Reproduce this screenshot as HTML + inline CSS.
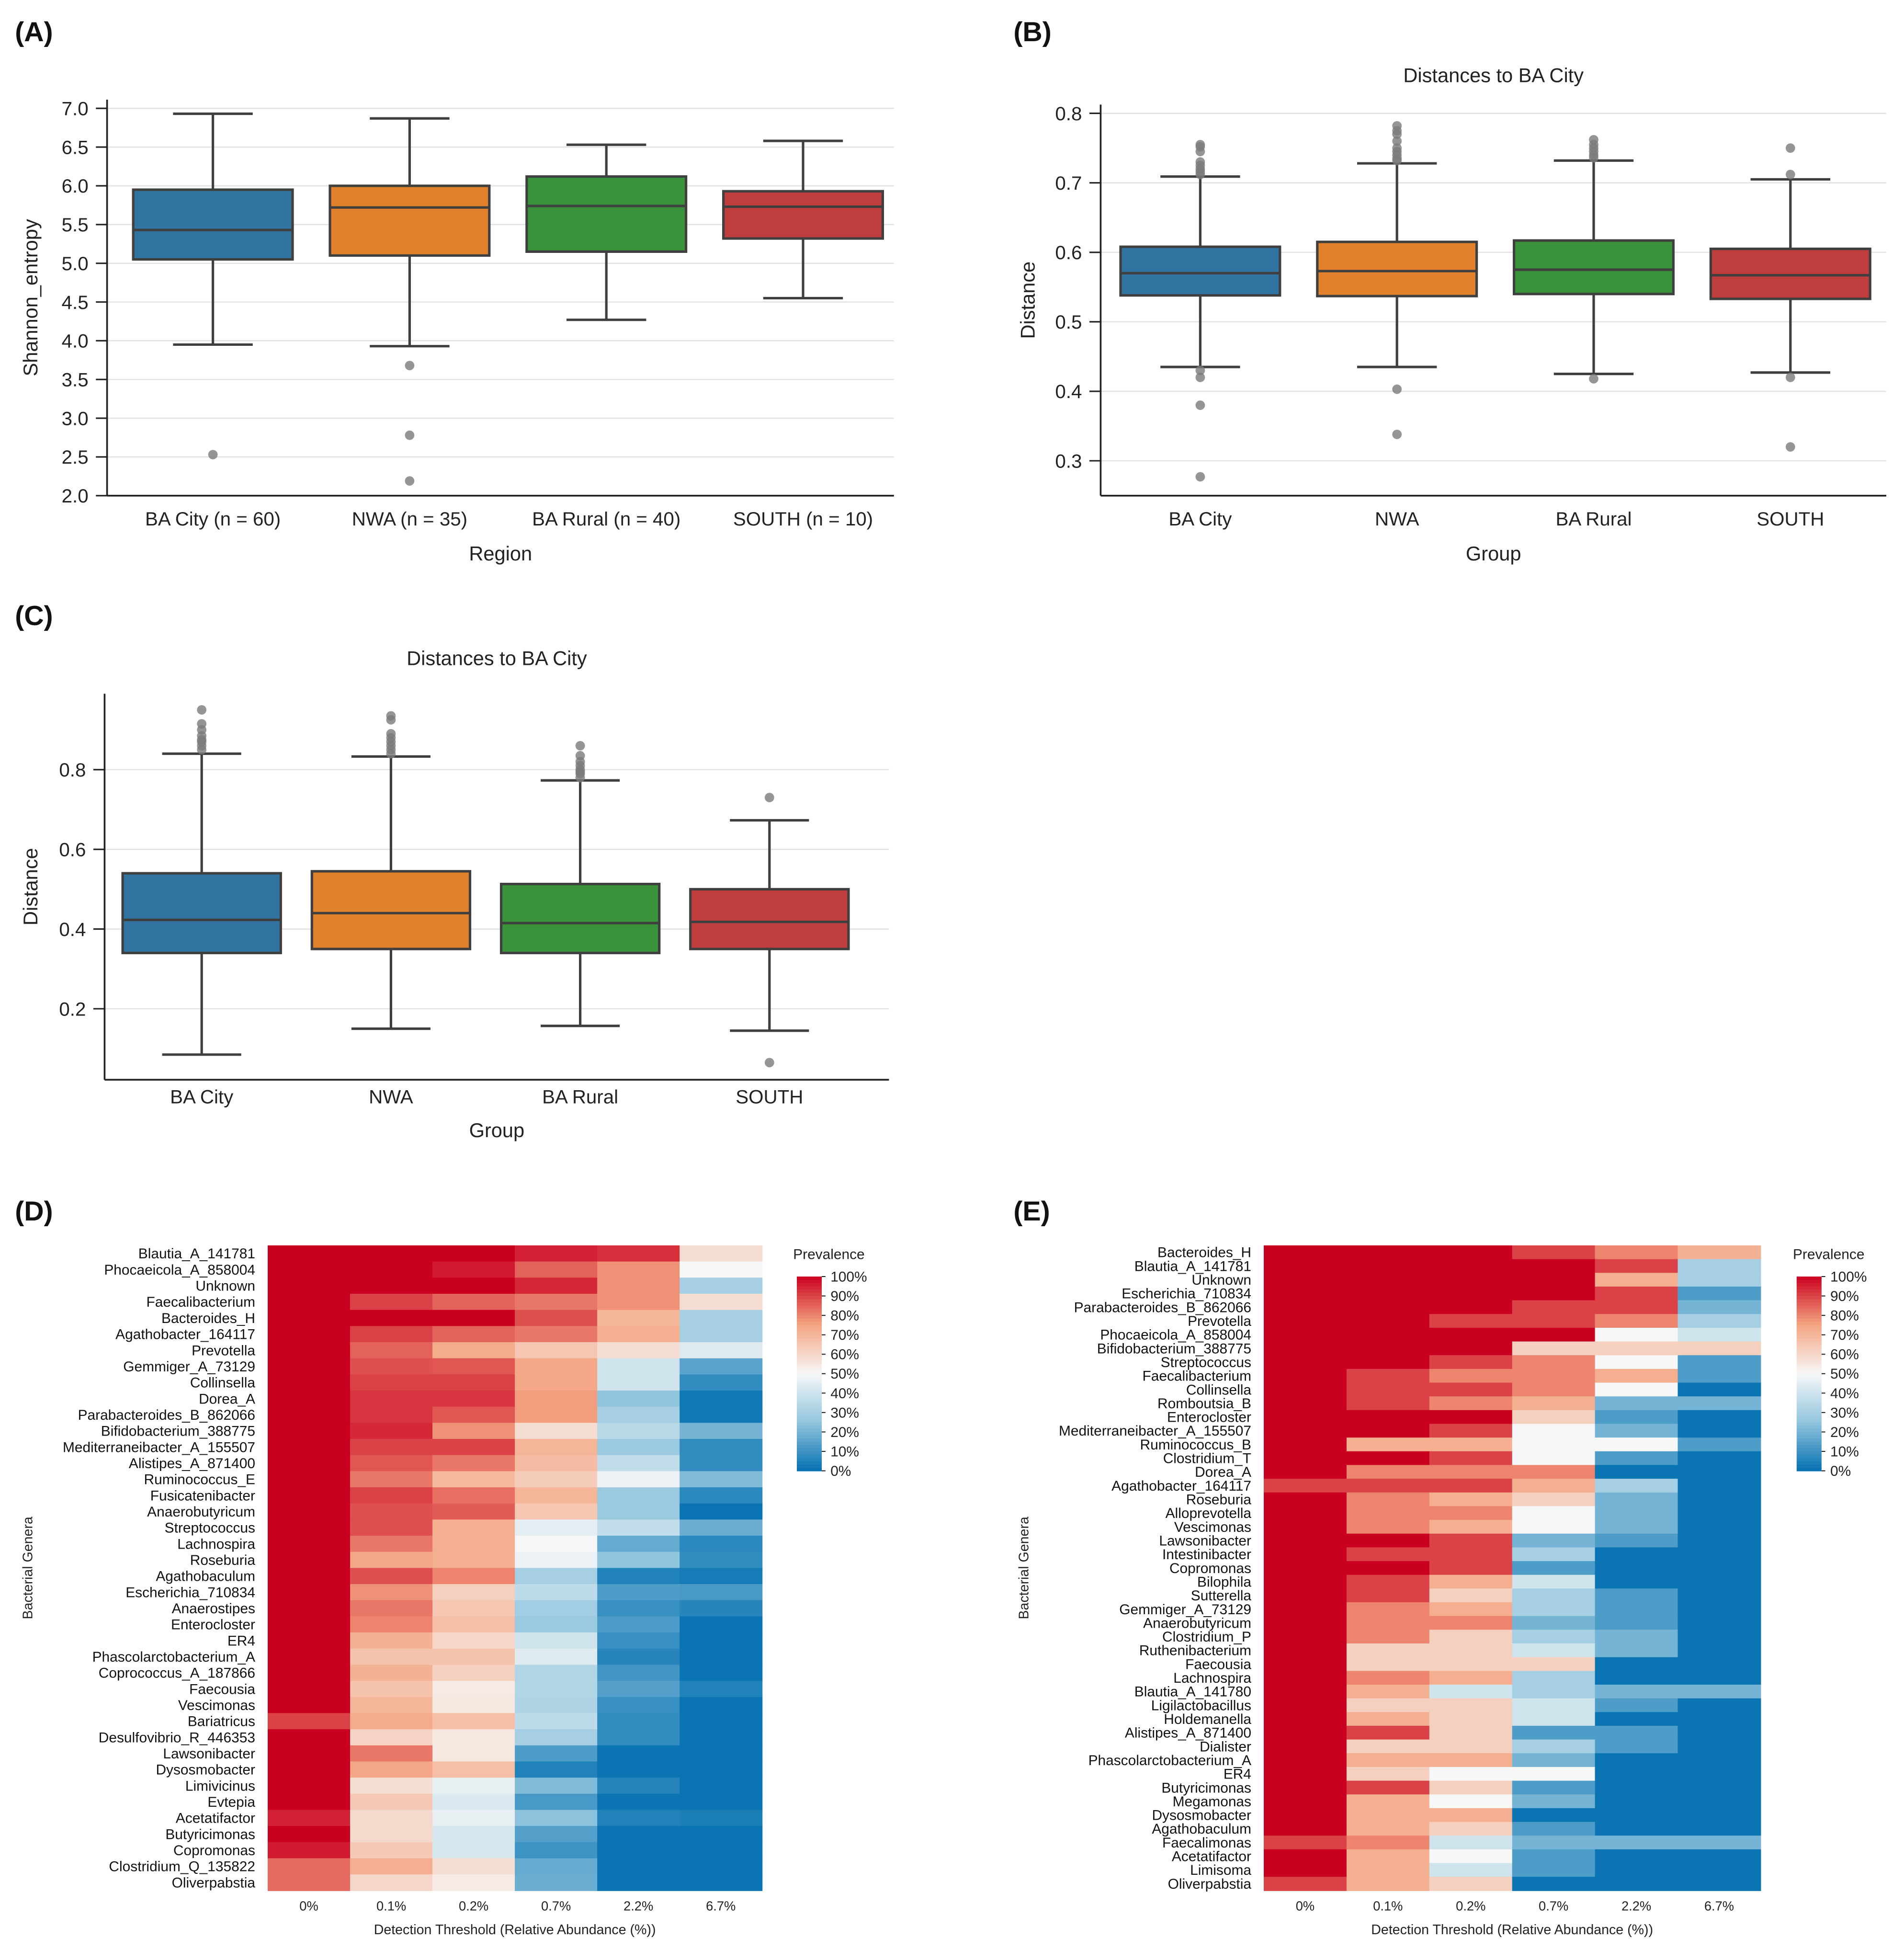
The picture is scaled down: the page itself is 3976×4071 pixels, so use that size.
<!DOCTYPE html>
<html><head><meta charset="utf-8"><style>
html,body{margin:0;padding:0;background:#fff;}
svg{display:block;font-family:"Liberation Sans",sans-serif;}
</style></head><body>
<svg id="fig" xmlns="http://www.w3.org/2000/svg" width="3976" height="4071" viewBox="0 0 1529.23 1565.77">
<rect width="1529.23" height="1565.77" fill="#fff"/>
<g font-weight="bold" font-size="22" fill="#111">
<text x="12" y="33">(A)</text>
<text x="814" y="33">(B)</text>
<text x="12" y="502">(C)</text>
<text x="12" y="980">(D)</text>
<text x="814" y="980">(E)</text>
</g>
<g id="root"></g>
</svg>
<script>
// ---------- data ----------
const groupsA = ["BA City (n = 60)","NWA (n = 35)","BA Rural (n = 40)","SOUTH (n = 10)"];
const groupsBC = ["BA City","NWA","BA Rural","SOUTH"];
const colors = ["#3274a1","#e1812c","#3a923a","#c03d3e"];
// [whiskerLow, Q1, median, Q3, whiskerHigh]
const statsA = [[3.95,5.05,5.43,5.95,6.93],[3.93,5.1,5.72,6.0,6.87],[4.27,5.15,5.74,6.12,6.53],[4.55,5.32,5.73,5.93,6.58]];
const outliersA = [[2.53],[3.68,2.78,2.19],[],[]];
const statsB = [[0.435,0.538,0.570,0.608,0.709],[0.435,0.537,0.573,0.615,0.728],[0.425,0.540,0.575,0.617,0.732],[0.427,0.533,0.567,0.605,0.705]];
const outliersB = [[0.712,0.716,0.72,0.725,0.73,0.745,0.752,0.755,0.43,0.42,0.38,0.277],[0.732,0.735,0.74,0.745,0.75,0.76,0.77,0.775,0.782,0.403,0.338],[0.736,0.74,0.745,0.75,0.755,0.762,0.418],[0.712,0.75,0.42,0.32]];
const statsC = [[0.085,0.34,0.423,0.54,0.84],[0.15,0.35,0.44,0.545,0.833],[0.157,0.34,0.415,0.513,0.773],[0.145,0.35,0.418,0.5,0.673]];
const outliersC = [[0.85,0.86,0.87,0.875,0.885,0.9,0.915,0.95],[0.84,0.85,0.86,0.87,0.88,0.89,0.925,0.935],[0.78,0.79,0.795,0.8,0.81,0.82,0.835,0.86],[0.73,0.065]];
const ticksA = [2.0,2.5,3.0,3.5,4.0,4.5,5.0,5.5,6.0,6.5,7.0];
const ticksB = [0.3,0.4,0.5,0.6,0.7,0.8];
const ticksC = [0.2,0.4,0.6,0.8];
const thresholds = ["0%","0.1%","0.2%","0.7%","2.2%","6.7%"];
const cbarTicks = [100,90,80,70,60,50,40,30,20,10,0];
const generaD = ["Blautia_A_141781","Phocaeicola_A_858004","Unknown","Faecalibacterium","Bacteroides_H","Agathobacter_164117","Prevotella","Gemmiger_A_73129","Collinsella","Dorea_A","Parabacteroides_B_862066","Bifidobacterium_388775","Mediterraneibacter_A_155507","Alistipes_A_871400","Ruminococcus_E","Fusicatenibacter","Anaerobutyricum","Streptococcus","Lachnospira","Roseburia","Agathobaculum","Escherichia_710834","Anaerostipes","Enterocloster","ER4","Phascolarctobacterium_A","Coprococcus_A_187866","Faecousia","Vescimonas","Bariatricus","Desulfovibrio_R_446353","Lawsonibacter","Dysosmobacter","Limivicinus","Evtepia","Acetatifactor","Butyricimonas","Copromonas","Clostridium_Q_135822","Oliverpabstia"];
const prevD = [[100,100,100,95,93,58],[100,100,96,85,78,50],[100,100,100,94,78,30],[100,90,85,82,78,58],[100,100,100,88,70,30],[100,90,85,82,72,30],[100,85,73,65,58,44],[100,88,87,74,40,15],[100,90,90,74,40,8],[100,92,92,76,25,2],[100,92,87,76,30,2],[100,94,78,58,35,20],[100,90,90,70,27,8],[100,87,82,68,37,8],[100,82,69,63,47,22],[100,90,83,70,27,7],[100,88,86,65,27,1],[100,88,72,45,37,18],[100,82,72,50,17,7],[100,74,72,47,25,8],[100,88,80,30,5,3],[100,78,62,36,13,12],[100,82,65,29,9,6],[100,80,67,27,13,1],[100,71,60,40,9,1],[100,66,66,44,6,1],[100,71,62,33,11,1],[100,66,54,33,14,5],[100,70,55,32,9,1],[90,73,67,36,8,1],[100,61,55,30,8,1],[100,82,55,13,1,1],[100,74,67,5,1,1],[100,58,46,22,6,1],[100,64,43,12,1,1],[95,59,46,24,5,4],[100,59,42,14,1,1],[96,64,42,10,1,1],[84,72,58,17,1,1],[84,60,54,18,1,1]];
const generaE = ["Bacteroides_H","Blautia_A_141781","Unknown","Escherichia_710834","Parabacteroides_B_862066","Prevotella","Phocaeicola_A_858004","Bifidobacterium_388775","Streptococcus","Faecalibacterium","Collinsella","Romboutsia_B","Enterocloster","Mediterraneibacter_A_155507","Ruminococcus_B","Clostridium_T","Dorea_A","Agathobacter_164117","Roseburia","Alloprevotella","Vescimonas","Lawsonibacter","Intestinibacter","Copromonas","Bilophila","Sutterella","Gemmiger_A_73129","Anaerobutyricum","Clostridium_P","Ruthenibacterium","Faecousia","Lachnospira","Blautia_A_141780","Ligilactobacillus","Holdemanella","Alistipes_A_871400","Dialister","Phascolarctobacterium_A","ER4","Butyricimonas","Megamonas","Dysosmobacter","Agathobaculum","Faecalimonas","Acetatifactor","Limisoma","Oliverpabstia"];
const prevE = [[100,100,100,90,80,71],[100,100,100,100,90,30],[100,100,100,100,72,30],[100,100,100,100,90,13],[100,100,100,90,90,20],[100,100,90,90,80,30],[100,100,100,100,50,40],[100,100,100,62,62,62],[100,100,90,80,50,13],[100,90,80,80,72,13],[100,90,90,80,50,1],[100,90,80,72,20,20],[100,100,100,62,13,1],[100,100,90,50,20,1],[100,72,72,50,50,13],[100,100,90,50,13,1],[100,80,80,80,1,1],[90,90,90,72,30,1],[100,80,72,62,20,1],[100,80,80,50,20,1],[100,80,72,50,20,1],[100,100,90,20,13,1],[100,90,90,30,1,1],[100,100,90,13,1,1],[100,90,72,40,1,1],[100,90,62,30,13,1],[100,80,72,30,13,1],[100,80,80,20,13,1],[100,80,62,30,20,1],[100,62,62,40,20,1],[100,62,62,62,1,1],[100,80,72,30,1,1],[100,72,40,30,20,20],[100,62,62,40,13,1],[100,72,62,40,1,1],[100,90,62,13,13,1],[100,62,62,30,13,1],[100,72,72,20,1,1],[100,62,50,50,1,1],[100,90,62,13,1,1],[100,72,50,20,1,1],[100,72,72,1,1,1],[100,72,62,13,1,1],[90,80,40,20,20,20],[100,72,50,13,1,1],[100,72,40,13,1,1],[90,72,62,1,1,1]];

// ---------- helpers ----------
const NS="http://www.w3.org/2000/svg";
const root=document.getElementById('root');
function mk(tag,attrs,parent,txt){const e=document.createElementNS(NS,tag);for(const k in attrs)e.setAttribute(k,attrs[k]);if(txt!==undefined)e.textContent=txt;(parent||root).appendChild(e);return e;}
const stops=[[0,[5,113,176]],[25,[146,197,222]],[50,[247,247,247]],[75,[244,165,130]],[100,[202,0,32]]];
function cmap(v){v=Math.max(0,Math.min(100,v));for(let i=0;i<4;i++){const a=stops[i],b=stops[i+1];if(v<=b[0]){const t=(v-a[0])/(b[0]-a[0]);const c=a[1].map((x,j)=>Math.round(x+(b[1][j]-x)*t));return `rgb(${c[0]},${c[1]},${c[2]})`;}}return 'rgb(202,0,32)';}

function boxPanel(cfg){
  const g=mk('g',{});
  
  
  const y=v=>cfg.yA+(v-cfg.vA)/(cfg.vB-cfg.vA)*(cfg.yB-cfg.yA);
  const cx=i=>cfg.c0+cfg.step*i;
  const bottom=cfg.bottom;
  cfg.ticks.forEach(t=>{
    const gl=mk('line',{x1:cfg.left,x2:cfg.right,y1:y(t),y2:y(t),stroke:'#e3e3e3','stroke-width':1},g);
    
    
    mk('line',{x1:cfg.left-9,x2:cfg.left,y1:y(t),y2:y(t),stroke:'#222','stroke-width':1.2},g);
    const tl=mk('text',{x:cfg.left-15,y:y(t)+5.5,'text-anchor':'end','font-size':15.5,fill:'#222'},g,t.toFixed(1));
    
    
  });
  cfg.groups.forEach((name,i)=>{
    const s=cfg.stats[i],c=cx(i),hw=cfg.bw/2;
    const bg=mk('g',{},g);
    
    
    mk('line',{x1:c,x2:c,y1:y(s[0]),y2:y(s[1]),stroke:'#3f3f3f','stroke-width':2},bg);
    mk('line',{x1:c,x2:c,y1:y(s[3]),y2:y(s[4]),stroke:'#3f3f3f','stroke-width':2},bg);
    mk('line',{x1:c-hw/2,x2:c+hw/2,y1:y(s[0]),y2:y(s[0]),stroke:'#3f3f3f','stroke-width':2},bg);
    mk('line',{x1:c-hw/2,x2:c+hw/2,y1:y(s[4]),y2:y(s[4]),stroke:'#3f3f3f','stroke-width':2},bg);
    mk('rect',{x:c-hw,y:y(s[3]),width:cfg.bw,height:y(s[1])-y(s[3]),fill:colors[i],stroke:'#3f3f3f','stroke-width':2},bg);
    mk('line',{x1:c-hw,x2:c+hw,y1:y(s[2]),y2:y(s[2]),stroke:'#3f3f3f','stroke-width':2},bg);
    cfg.outliers[i].forEach(v=>{
      const p=mk('circle',{cx:c,cy:y(v),r:3.8,fill:'#7a7a7a','fill-opacity':0.8},bg);
      
      
    });
    const xl=mk('text',{x:c,y:bottom+cfg.labOff,'text-anchor':'middle','font-size':15.5,fill:'#222'},g,name);
    
    
  });
  mk('line',{x1:cfg.left,x2:cfg.left,y1:cfg.top,y2:bottom,stroke:'#222','stroke-width':1.4},g);
  mk('line',{x1:cfg.left,x2:cfg.right,y1:bottom,y2:bottom,stroke:'#222','stroke-width':1.4},g);
  const xt=mk('text',{x:(cfg.left+cfg.right)/2,y:bottom+cfg.titleOff,'text-anchor':'middle','font-size':16,fill:'#222'},g,cfg.xlabel);
  
  
  const ym=(cfg.top+bottom)/2;
  const yt=mk('text',{x:cfg.ylabX,y:ym,'text-anchor':'middle','font-size':16,fill:'#222',transform:`rotate(-90 ${cfg.ylabX} ${ym})`},g,cfg.ylabel);
  
  
  if(cfg.title){const tt=mk('text',{x:(cfg.left+cfg.right)/2,y:cfg.titleY,'text-anchor':'middle','font-size':16,fill:'#222'},g,cfg.title);
    
    }
}

boxPanel({name:'panel-a-shannon-boxplot',groups:groupsA,stats:statsA,outliers:outliersA,ticks:ticksA,vA:2,yA:398,vB:7,yB:87,top:80,bottom:398,left:86,right:718,c0:171,step:158,bw:128,labOff:24,titleOff:52,xlabel:'Region',ylabel:'Shannon_entropy',ylabX:30});
boxPanel({name:'panel-b-distance-boxplot',groups:groupsBC,stats:statsB,outliers:outliersB,ticks:ticksB,vA:0.3,yA:370,vB:0.8,yB:91,top:84,bottom:398,left:884,right:1515,c0:964,step:158,bw:128,labOff:24,titleOff:52,xlabel:'Group',ylabel:'Distance',ylabX:831,title:'Distances to BA City',titleY:66});
boxPanel({name:'panel-c-distance-boxplot',groups:groupsBC,stats:statsC,outliers:outliersC,ticks:ticksC,vA:0,yA:874,vB:0.8,yB:618,top:557,bottom:867,left:84,right:714,c0:162,step:152,bw:127,labOff:19,titleOff:46,xlabel:'Group',ylabel:'Distance',ylabX:30,title:'Distances to BA City',titleY:534});

function heatPanel(cfg){
  const g=mk('g',{});
  
  
  const n=cfg.rows.length, rh=(cfg.y1-cfg.y0)/n, cw=(cfg.x1-cfg.x0)/thresholds.length;
  cfg.vals.forEach((row,r)=>{
    row.forEach((v,c)=>{
      const cell=mk('rect',{x:cfg.x0+c*cw,y:cfg.y0+r*rh,width:cw+0.4,height:rh+0.4,fill:cmap(v)},g);
      
      
    });
    const l=mk('text',{x:cfg.x0-10,y:cfg.y0+(r+0.5)*rh+4,'text-anchor':'end','font-size':11.5,fill:'#111'},g,cfg.rows[r]);
    
    
  });
  thresholds.forEach((t,c)=>{
    const l=mk('text',{x:cfg.x0+(c+0.5)*cw,y:cfg.y1+16,'text-anchor':'middle','font-size':10.5,fill:'#222'},g,t);
    
    
  });
  const xt=mk('text',{x:(cfg.x0+cfg.x1)/2,y:cfg.y1+35,'text-anchor':'middle','font-size':11,fill:'#222'},g,'Detection Threshold (Relative Abundance (%))');
  
  
  const yt=mk('text',{x:cfg.ylabX,y:1259,'text-anchor':'middle','font-size':11,fill:'#222',transform:`rotate(-90 ${cfg.ylabX} 1259)`},g,'Bacterial Genera');
  
  
  const cb=mk('g',{},g);
  
  
  const cbT=1025,cbB=1181,steps=60;
  for(let i=0;i<steps;i++){const v=100-(i+0.5)*100/steps;
    mk('rect',{x:cfg.cbx,y:cbT+i*(cbB-cbT)/steps,width:20,height:(cbB-cbT)/steps+0.4,fill:cmap(v)},cb);}
  cbarTicks.forEach(t=>{const yy=cbB-(t/100)*(cbB-cbT);
    mk('line',{x1:cfg.cbx+20,x2:cfg.cbx+23,y1:yy,y2:yy,stroke:'#222','stroke-width':0.8},cb);
    const l=mk('text',{x:cfg.cbx+27,y:yy+4,'font-size':11.5,fill:'#222'},cb,t+'%');
    
    
  });
  const ct=mk('text',{x:cfg.cbx-3,y:1011,'font-size':11.5,fill:'#222'},cb,'Prevalence');
  
  
}
heatPanel({name:'panel-d-heatmap',rows:generaD,vals:prevD,x0:215,x1:612,y0:1000,y1:1518,cbx:640,ylabX:26});
heatPanel({name:'panel-e-heatmap',rows:generaE,vals:prevE,x0:1015,x1:1414,y0:1000,y1:1518,cbx:1443,ylabX:826});
</script>
</body></html>
